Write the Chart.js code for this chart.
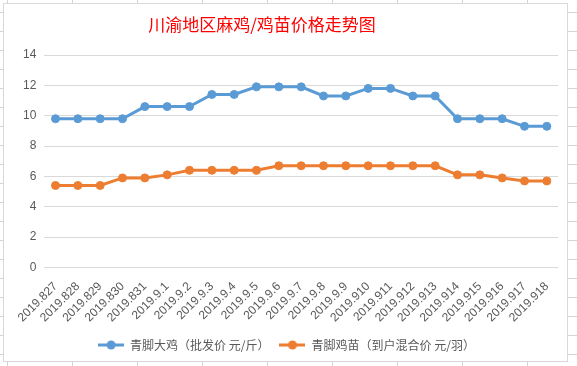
<!DOCTYPE html>
<html>
<head>
<meta charset="utf-8">
<script src="https://cdn.jsdelivr.net/npm/chart.js@4.4.1/dist/chart.umd.min.js"></script>
<style>
html, body { margin: 0; padding: 0; }
body {
    width: 577px; height: 366px; overflow: hidden; position: relative;
    background-color: #fff;
    background-image:
        linear-gradient(to right, #d4d4d4 1px, transparent 1px),
        linear-gradient(to bottom, #d4d4d4 1px, transparent 1px);
    background-size: 65px 19px;
    background-position: 7px 12px;
}
#box {
    position: absolute; left: 3px; top: 3px; width: 565px; height: 359px;
    box-sizing: border-box; border: 1px solid #d9d9d9; background: #fff;
}
canvas { display: block; }
</style>
</head>
<body>
<div id="box"><canvas id="priceChart" width="563" height="357"></canvas></div>
<script>
// dates on the x axis
const dates = ['2019.827', '2019.828', '2019.829', '2019.830', '2019.831',
    '2019.9.1', '2019.9.2', '2019.9.3', '2019.9.4', '2019.9.5', '2019.9.6', '2019.9.7',
    '2019.9.8', '2019.9.9', '2019.910', '2019.911', '2019.912', '2019.913', '2019.914',
    '2019.915', '2019.916', '2019.917', '2019.918'];
// 青脚大鸡 wholesale price, yuan per jin
const bigChicken = [9.8, 9.8, 9.8, 9.8, 10.6, 10.6, 10.6, 11.4, 11.4, 11.9, 11.9, 11.9,
    11.3, 11.3, 11.8, 11.8, 11.3, 11.3, 9.8, 9.8, 9.8, 9.3, 9.3];
// 青脚鸡苗 price, yuan per chick
const chicks = [5.4, 5.4, 5.4, 5.9, 5.9, 6.1, 6.4, 6.4, 6.4, 6.4, 6.7, 6.7,
    6.7, 6.7, 6.7, 6.7, 6.7, 6.7, 6.1, 6.1, 5.9, 5.7, 5.7];
const yTicks = [0, 2, 4, 6, 8, 10, 12, 14];

const BLUE = '#5b9bd5';
const ORANGE = '#ed7d31';
const CJK = "'Noto Sans CJK SC', 'Noto Sans', sans-serif";
const LATIN = "'Liberation Sans', Arial, sans-serif";

// little line-with-dot marker for the legend
function legendMarker(color) {
    const c = document.createElement('canvas');
    c.width = 26; c.height = 10;
    const g = c.getContext('2d');
    g.strokeStyle = color;
    g.lineWidth = 3;
    g.beginPath();
    g.moveTo(0, 5); g.lineTo(26, 5);
    g.stroke();
    g.fillStyle = color;
    g.beginPath();
    g.arc(13, 5, 4.5, 0, Math.PI * 2);
    g.fill();
    return c;
}
const markers = [legendMarker(BLUE), legendMarker(ORANGE)];

// title sits a bit left of centre in the original
const titlePlugin = {
    id: 'offsetTitle',
    afterDraw(chart) {
        const ctx = chart.ctx;
        ctx.save();
        ctx.fillStyle = '#ff0000';
        ctx.font = '17px ' + CJK;
        ctx.textAlign = 'center';
        ctx.textBaseline = 'middle';
        ctx.fillText('川渝地区麻鸡/鸡苗价格走势图', 258, 21);
        ctx.restore();
    }
};

document.addEventListener('DOMContentLoaded', function() {
    const ctx = document.getElementById('priceChart').getContext('2d');
    new Chart(ctx, {
        type: 'line',
        data: {
            labels: dates,
            datasets: [{
                label: '青脚大鸡（批发价 元/斤）',
                data: bigChicken,
                borderColor: BLUE,
                backgroundColor: BLUE,
                pointBackgroundColor: BLUE,
                pointBorderColor: BLUE,
                borderWidth: 3,
                pointRadius: 4,
                pointBorderWidth: 1,
                tension: 0
            }, {
                label: '青脚鸡苗（到户混合价 元/羽）',
                data: chicks,
                borderColor: ORANGE,
                backgroundColor: ORANGE,
                pointBackgroundColor: ORANGE,
                pointBorderColor: ORANGE,
                borderWidth: 3,
                pointRadius: 4,
                pointBorderWidth: 1,
                tension: 0
            }]
        },
        options: {
            responsive: false,
            animation: false,
            layout: { padding: { left: 11, right: 9, top: 51, bottom: 0 } },
            plugins: {
                title: { display: false },
                tooltip: { enabled: false },
                legend: {
                    position: 'bottom',
                    labels: {
                        usePointStyle: true,
                        pointStyleWidth: 26,
                        color: '#595959',
                        font: { family: CJK, size: 12 },
                        padding: 10,
                        generateLabels(chart) {
                            return chart.data.datasets.map((ds, i) => ({
                                text: ds.label,
                                fontColor: '#595959',
                                pointStyle: markers[i],
                                datasetIndex: i,
                                lineWidth: 0,
                                hidden: false
                            }));
                        }
                    }
                }
            },
            scales: {
                x: {
                    offset: true,
                    grid: { display: false },
                    border: { display: false },
                    afterFit(axis) {
                        // rotated labels should not push the plot area
                        axis.paddingLeft = 0;
                        axis.paddingRight = 0;
                    },
                    ticks: {
                        color: '#595959',
                        font: { family: LATIN, size: 12 },
                        autoSkip: false,
                        minRotation: 45,
                        maxRotation: 45,
                        padding: 4
                    }
                },
                y: {
                    min: yTicks[0],
                    max: yTicks[yTicks.length - 1],
                    afterBuildTicks(axis) { axis.ticks = yTicks.map(v => ({ value: v })); },
                    grid: { color: '#d9d9d9', drawTicks: false },
                    border: { display: false },
                    ticks: {
                        color: '#595959',
                        font: { family: LATIN, size: 12 },
                        padding: 8
                    }
                }
            }
        },
        plugins: [titlePlugin]
    });
});
</script>
</body>
</html>
